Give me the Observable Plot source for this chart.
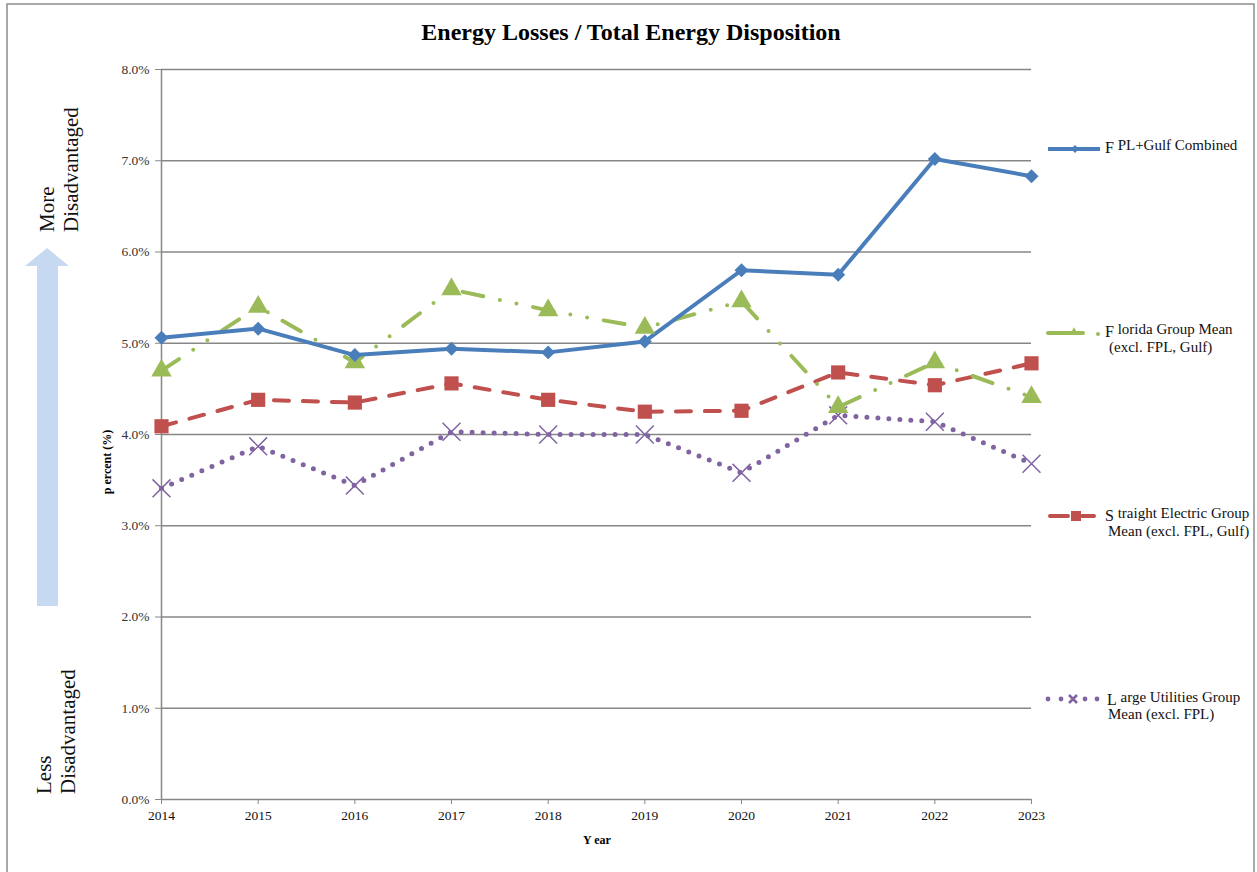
<!DOCTYPE html>
<html><head><meta charset="utf-8">
<script src="https://cdn.jsdelivr.net/npm/d3@7"></script>
<script src="https://cdn.jsdelivr.net/npm/@observablehq/plot@0.6"></script>
<style>
html,body{margin:0;padding:0;background:#fff;overflow:hidden;}
#wrap{position:relative;width:1257px;height:872px;}
#wrap svg{position:absolute;left:0;top:0;}
</style></head><body><div id="wrap"></div>
<script>
const years = [2014, 2015, 2016, 2017, 2018, 2019, 2020, 2021, 2022, 2023];
const seriesNames = ["FPL+Gulf Combined", "Florida Group Mean (excl. FPL, Gulf)", "Straight Electric Group Mean (excl. FPL, Gulf)", "Large Utilities Group Mean (excl. FPL)"];
const fplGulf = [5.06, 5.16, 4.87, 4.94, 4.90, 5.02, 5.80, 5.75, 7.02, 6.83];
const floridaGroup = [4.70, 5.40, 4.79, 5.59, 5.36, 5.17, 5.46, 4.30, 4.79, 4.41];
const straightElectric = [4.09, 4.38, 4.35, 4.56, 4.38, 4.25, 4.26, 4.68, 4.54, 4.78];
const largeUtilities = [3.41, 3.87, 3.44, 4.03, 4.00, 4.00, 3.58, 4.21, 4.14, 3.68];
const yTicks = [0, 1, 2, 3, 4, 5, 6, 7, 8];
const yTickLabels = ["0.0%", "1.0%", "2.0%", "3.0%", "4.0%", "5.0%", "6.0%", "7.0%", "8.0%"];
const xTickLabels = ["2014", "2015", "2016", "2017", "2018", "2019", "2020", "2021", "2022", "2023"];

const toRows = (vals, name) => vals.map((v, i) => ({year: years[i], value: v, series: name}));
const rFpl = toRows(fplGulf, seriesNames[0]);
const rFl = toRows(floridaGroup, seriesNames[1]);
const rSe = toRows(straightElectric, seriesNames[2]);
const rLu = toRows(largeUtilities, seriesNames[3]);

const BLUE = "#4A7EBB", GREEN = "#9BBB59", RED = "#C0504D", PURPLE = "#8064A2", GRID = "#878787";
const SERIF = "'Liberation Serif', 'DejaVu Serif', serif";

const chart = Plot.plot({
  width: 1257, height: 872,
  marginLeft: 161, marginRight: 226, marginTop: 69, marginBottom: 73,
  style: {fontFamily: SERIF, fontSize: "13px", background: "transparent", overflow: "visible"},
  x: {domain: [2014, 2023], label: null},
  y: {domain: [0, 8], label: null},
  marks: [
    Plot.ruleY(yTicks, {y: d => d, stroke: GRID, strokeWidth: 1.5}),
    Plot.ruleX([2014], {stroke: GRID, strokeWidth: 1.5}),
    Plot.axisY({ticks: yTicks, tickFormat: d => yTickLabels[yTicks.indexOf(d)], tickSize: 6, tickPadding: 6, stroke: GRID, fill: "#333", label: null, fontSize: 13.5}),
    Plot.axisX({ticks: years, tickFormat: d => xTickLabels[years.indexOf(d)], tickSize: 5, tickPadding: 6, stroke: GRID, fill: "#111", label: null, fontSize: 13.5}),
    Plot.line(rLu, {x: "year", y: "value", stroke: PURPLE, strokeWidth: 5, strokeDasharray: "0 11", strokeLinecap: "round"}),
    Plot.line(rSe, {x: "year", y: "value", stroke: RED, strokeWidth: 4, strokeDasharray: "15 14", strokeLinecap: "round"}),
    Plot.line(rFl, {x: "year", y: "value", stroke: GREEN, strokeWidth: 4, strokeDasharray: "21 17 0 17 0 17", strokeLinecap: "round"}),
    Plot.line(rFpl, {x: "year", y: "value", stroke: BLUE, strokeWidth: 4, strokeLinejoin: "round"}),
    Plot.dot(rLu, {x: "year", y: "value", symbol: "times", r: 8.2, stroke: PURPLE, strokeWidth: 1.5}),
    Plot.dot(rSe, {x: "year", y: "value", symbol: "square", r: 8, fill: RED}),
    Plot.dot(rFl, {x: "year", y: "value", symbol: "triangle", r: 7.6, fill: GREEN}),
    Plot.dot(rFpl, {x: "year", y: "value", symbol: "diamond2", r: 6.3, fill: BLUE})
  ]
});
document.getElementById("wrap").appendChild(chart);

// decorations overlay
const ov = d3.select("#wrap").append("svg")
  .attr("width", 1257).attr("height", 872)
  .style("font-family", SERIF).style("pointer-events", "none");

ov.append("path").attr("d", "M7,900V4H1254V900").attr("fill", "none").attr("stroke", "#8c8c8c").attr("stroke-width", 1.5);

ov.append("text").attr("x", 631).attr("y", 40).attr("text-anchor", "middle")
  .attr("font-size", 24).attr("font-weight", "bold").attr("fill", "#000")
  .text("Energy Losses / Total Energy Disposition");

ov.append("text").attr("x", 597).attr("y", 844).attr("text-anchor", "middle")
  .attr("font-size", 12).attr("font-weight", "bold").attr("fill", "#000").text("Y ear");

ov.append("text").attr("transform", "translate(111,462) rotate(-90)").attr("text-anchor", "middle")
  .attr("font-size", 12).attr("font-weight", "bold").attr("fill", "#000").text("p ercent (%)");

// arrow
ov.append("path").attr("d", "M37,606V266H25L47,248L69,266H58V606Z").attr("fill", "#C6D9F1");

const rot = (x, y, txt) => ov.append("text").attr("transform", `translate(${x},${y}) rotate(-90)`)
  .attr("text-anchor", "start").attr("font-size", 21).attr("fill", "#111").text(txt);
rot(54, 232, "More");
rot(78, 232, "Disadvantaged");
rot(51, 794, "Less");
rot(75, 794, "Disadvantaged");

// legend
const lg = ov.append("g");
function legText(x, y, first, rest) {
  const t = lg.append("text").attr("x", x).attr("y", y).attr("font-size", 15).attr("fill", "#111");
  t.append("tspan").attr("dy", 3).attr("font-size", 16).text(first);
  t.append("tspan").attr("dy", -3).text(" " + rest);
}
function legLine2(x, y, txt) {
  lg.append("text").attr("x", x).attr("y", y).attr("font-size", 15).attr("fill", "#111").text(txt);
}
// 1
lg.append("line").attr("x1", 1048).attr("x2", 1100).attr("y1", 149).attr("y2", 149).attr("stroke", BLUE).attr("stroke-width", 4);
lg.append("path").attr("d", d3.symbol(d3.symbolDiamond2, 40)()).attr("transform", "translate(1075,149)").attr("fill", BLUE);
legText(1105, 150, "F", "PL+Gulf Combined");
// 2
lg.append("line").attr("x1", 1048).attr("x2", 1083).attr("y1", 333).attr("y2", 333).attr("stroke", GREEN).attr("stroke-width", 4).attr("stroke-linecap", "round");
lg.append("path").attr("d", d3.symbol(d3.symbolTriangle, 30)()).attr("transform", "translate(1074,332)").attr("fill", GREEN);
lg.append("circle").attr("cx", 1098).attr("cy", 334).attr("r", 2).attr("fill", GREEN);
legText(1105, 334, "F", "lorida Group Mean");
legLine2(1109, 352, "(excl. FPL, Gulf)");
// 3
lg.append("line").attr("x1", 1050).attr("x2", 1068).attr("y1", 516).attr("y2", 516).attr("stroke", RED).attr("stroke-width", 4).attr("stroke-linecap", "round");
lg.append("line").attr("x1", 1082).attr("x2", 1094).attr("y1", 516).attr("y2", 516).attr("stroke", RED).attr("stroke-width", 4).attr("stroke-linecap", "round");
lg.append("rect").attr("x", 1071).attr("y", 511).attr("width", 10).attr("height", 10).attr("fill", RED);
legText(1105, 518, "S", "traight Electric Group");
legLine2(1108, 536, "Mean (excl. FPL, Gulf)");
// 4
[1048, 1061, 1085, 1097].forEach(cx => lg.append("circle").attr("cx", cx).attr("cy", 699).attr("r", 2.4).attr("fill", PURPLE));
lg.append("path").attr("d", "M1069,695L1077,703M1069,703L1077,695").attr("stroke", PURPLE).attr("stroke-width", 2.5);
legText(1107, 702, "L", "arge Utilities Group");
legLine2(1108, 719, "Mean (excl. FPL)");
</script></body></html>
